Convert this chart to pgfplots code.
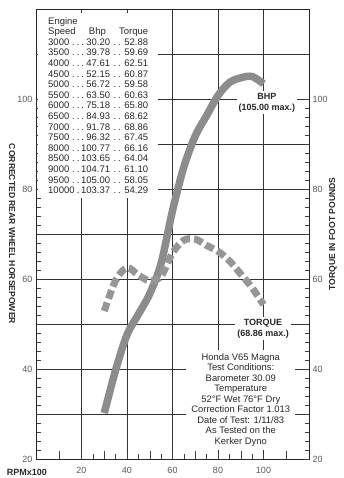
\documentclass[border=0pt]{standalone}
\usepackage{fontspec}
\setmainfont{Liberation Sans}
\usepackage{pgfplots}
\pgfplotsset{compat=1.18}
\definecolor{band}{RGB}{140,140,140}
\definecolor{band2}{RGB}{150,150,150}
\definecolor{txt}{RGB}{40,40,40}
\newcommand\ld{\leaders\hbox to 4.6pt{\hss.\hss}\hfill}
\newcommand\rw[3]{\hbox to 100pt{\hbox to 62pt{#1\ld#2}\ld#3}}
\begin{document}
\begin{tikzpicture}
\path[use as bounding box] (-36pt,-19pt) rectangle (308pt,459pt);
\begin{axis}[
  at={(0pt,0pt)}, anchor=south west,
  scale only axis, width=273pt, height=450pt,
  xmin=0, xmax=120, ymin=20, ymax=120,
  clip=false,
  axis line style={black!85, line width=0.6pt},
  xtick={20,40,60,80,100}, ytick={20,40,60,80,100},
  tick pos=left, tick align=inside,
  minor x tick num=3, minor y tick num=9,
  major tick length=5pt, minor tick length=4.5pt,
  tick style={black!75, line width=0.5pt},
  grid=major, major grid style={black!80, line width=0.5pt},
  extra y ticks={30,50,70,90,110}, extra y tick labels={},
  extra y tick style={grid=major},
  extra x ticks={10,30,50,70,90,110}, extra x tick labels={},
  extra x tick style={grid=none, major tick length=7.5pt},
  /pgf/number format/assume math mode=true,
  ticklabel style={font=\fontsize{9}{10}\selectfont, text=black!65},
  xticklabel style={yshift=-5pt},
  ylabel={CORRECTED REAR WHEEL HORSEPOWER},
  ylabel style={at={(axis description cs:-0.088,0.5)}, anchor=center, rotate=180,
    font=\fontsize{8.6}{10}\selectfont\bfseries, text=txt},
]
\node[fill=white, anchor=north west, inner xsep=10pt, inner ysep=4pt, align=left,
  font=\fontsize{9.5}{10.6}\selectfont, text=txt]
  at ([xshift=2pt,yshift=-4pt]rel axis cs:0,1) {%
  Engine\\
  \hbox to 100pt{Speed\hfil Bhp\hfil Torque}\\
  \rw{3000}{30.20}{52.88}\\
  \rw{3500}{39.78}{59.69}\\
  \rw{4000}{47.61}{62.51}\\
  \rw{4500}{52.15}{60.87}\\
  \rw{5000}{56.72}{59.58}\\
  \rw{5500}{63.50}{60.63}\\
  \rw{6000}{75.18}{65.80}\\
  \rw{6500}{84.93}{68.62}\\
  \rw{7000}{91.78}{68.86}\\
  \rw{7500}{96.32}{67.45}\\
  \rw{8000}{100.77}{66.16}\\
  \rw{8500}{103.65}{64.04}\\
  \rw{9000}{104.71}{61.10}\\
  \rw{9500}{105.00}{58.05}\\
  \rw{10000}{103.37}{54.29}};
\node[fill=white, align=center, inner sep=2pt,
  font=\fontsize{9}{11}\selectfont\bfseries, text=txt] at (axis cs:101.5,99.2)
  {BHP\\(105.00 max.)};
\node[fill=white, align=center, inner sep=2pt,
  font=\fontsize{9}{11}\selectfont\bfseries, text=txt] at (axis cs:99.8,49.0)
  {TORQUE\\(68.86 max.)};
\node[fill=white, align=center, inner xsep=5pt, inner ysep=4pt,
  font=\fontsize{9.4}{10.5}\selectfont, text=txt] at (axis cs:90,33.1)
  {Honda V65 Magna\\Test Conditions:\\Barometer 30.09\\Temperature\\
   52°F Wet 76°F Dry\\Correction Factor 1.013\\Date of Test: 1/11/83\\
   As Tested on the\\Kerker Dyno};
\node[font=\fontsize{9}{10}\selectfont\bfseries, text=txt] at (axis cs:-3.96,17.1) {RPMx100};
\addplot[band, line width=7.5pt, smooth, tension=0.5] coordinates {
  (30,30.20) (35,39.78) (40,47.61) (45,52.15) (50,56.72) (55,63.50)
  (60,75.18) (65,84.93) (70,91.78) (75,96.32) (80,100.77) (85,103.65)
  (90,104.71) (95,105.00) (100,103.37)};
\addplot[band2, line width=7pt, dash pattern=on 9pt off 4pt, smooth, tension=0.5] coordinates {
  (30,52.88) (35,59.69) (40,62.51) (45,60.87) (50,59.58) (55,60.63)
  (60,65.80) (65,68.62) (70,68.86) (75,67.45) (80,66.16) (85,64.04)
  (90,61.10) (95,58.05) (100,54.29)};
\end{axis}
\begin{axis}[
  at={(0pt,0pt)}, anchor=south west,
  scale only axis, width=273pt, height=450pt,
  xmin=0, xmax=120, ymin=20, ymax=120,
  axis x line=none, axis y line*=right,
  axis line style={black!85, line width=0.6pt},
  ytick={20,40,60,80,100}, minor y tick num=9,
  tick align=inside,
  major tick length=5pt, minor tick length=4.5pt,
  tick style={black!75, line width=0.5pt},
  /pgf/number format/assume math mode=true,
  ticklabel style={font=\fontsize{9}{10}\selectfont, text=black!65},
  ylabel={TORQUE IN FOOT POUNDS},
  ylabel style={at={(axis description cs:1.088,0.5)}, anchor=center,
    font=\fontsize{8.6}{10}\selectfont\bfseries, text=txt},
]
\addplot[draw=none] coordinates {(0,20)};
\end{axis}
\end{tikzpicture}
\end{document}
